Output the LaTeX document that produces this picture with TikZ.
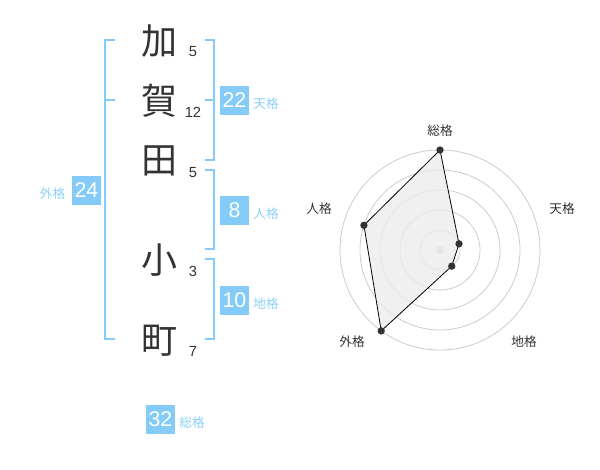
\documentclass[tikz,border=0pt]{standalone}
\usepackage{fontspec}
\setmainfont{Liberation Sans}
\newfontfamily\jp{Noto Sans CJK JP}
\definecolor{sky}{HTML}{84CCF7}
\definecolor{skytext}{HTML}{8CD0F5}
\definecolor{ink}{HTML}{333333}
\definecolor{ring}{HTML}{CCCCCC}
\tikzset{
  bigchar/.style={font=\jp\fontsize{27}{27}\selectfont, text=ink, inner sep=0pt, anchor=center},
  strokes/.style={font=\fontsize{11}{11}\selectfont, text=ink, inner sep=0pt, anchor=base},
  numbox/.style={fill=sky, text=white, font=\fontsize{16}{16}\selectfont, minimum size=21.75pt, inner sep=0pt, anchor=center},
  boxlabel/.style={font=\jp\fontsize{9.5}{9.5}\selectfont, text=skytext, inner sep=0pt, anchor=center},
  bracket/.style={draw=sky, line width=1.5pt},
  radarlabel/.style={font=\jp\fontsize{9.5}{9.5}\selectfont, text=ink, inner sep=0pt, anchor=center},
  ringline/.style={draw=ring, line width=0.6pt},
  dot/.style={circle, fill=ink, inner sep=0pt, minimum size=5.5pt},
}
\begin{document}
\begin{tikzpicture}[x=0.75pt, y=-0.75pt]
\useasboundingbox (0,0) rectangle (600,470);
% name characters
\node[bigchar] (c1) at (159,41) {加};
\node[bigchar] (c2) at (159,101) {賀};
\node[bigchar] (c3) at (159,161) {田};
\node[bigchar] (c4) at (159,260) {小};
\node[bigchar] (c5) at (159,341) {町};
% stroke counts
\node[strokes] (s1) at (193,57) {5};
\node[strokes] (s2) at (193,118) {12};
\node[strokes] (s3) at (193,178) {5};
\node[strokes] (s4) at (193,277) {3};
\node[strokes] (s5) at (193,357) {7};
% brackets
\draw[bracket] (115,40) -- (105,40) -- (105,339) -- (115,339);
\draw[bracket] (105,100) -- (115,100);
\draw[bracket] (205,40) -- (214,40) -- (214,160) -- (205,160);
\draw[bracket] (214,100) -- (205,100);
\draw[bracket] (205,170) -- (214,170) -- (214,249) -- (205,249);
\draw[bracket] (205,259) -- (214,259) -- (214,339) -- (205,339);
% boxes
\node[numbox] (ten) at (234.5,100.5) {22};
\node[boxlabel] (tenl) at (266,104) {天格};
\node[numbox] (jin) at (234.5,210.5) {8};
\node[boxlabel] (jinl) at (266,214) {人格};
\node[numbox] (chi) at (234.5,300.5) {10};
\node[boxlabel] (chil) at (266,304) {地格};
\node[numbox] (gai) at (86.5,190.5) {24};
\node[boxlabel] (gail) at (52.5,194) {外格};
\node[numbox] (sou) at (160.5,419.5) {32};
\node[boxlabel] (soul) at (192,423) {総格};
% radar chart
\begin{scope}[shift={(440,250)}]
  \foreach \r in {15,30,45,60,75} \draw[ringline] (0,0) circle[radius=\r pt];
  \fill[ring] (0,0) circle[radius=3pt];
  \coordinate (pS) at (90:75pt);
  \coordinate (pT) at (18:15pt);
  \coordinate (pC) at (-54:15pt);
  \coordinate (pG) at (234:75pt);
  \coordinate (pJ) at (162:60pt);
  \filldraw[fill=gray!15, fill opacity=0.8, draw=black, line width=0.6pt]
    (pS) -- (pT) -- (pC) -- (pG) -- (pJ) -- cycle;
  \foreach \p in {pS,pT,pC,pG,pJ} \node[dot] at (\p) {};
\end{scope}
\node[radarlabel] (rS) at (440,131) {総格};
\node[radarlabel] (rT) at (562,209) {天格};
\node[radarlabel] (rJ) at (319,209) {人格};
\node[radarlabel] (rC) at (524,342) {地格};
\node[radarlabel] (rG) at (352,342) {外格};
\end{tikzpicture}
\end{document}
